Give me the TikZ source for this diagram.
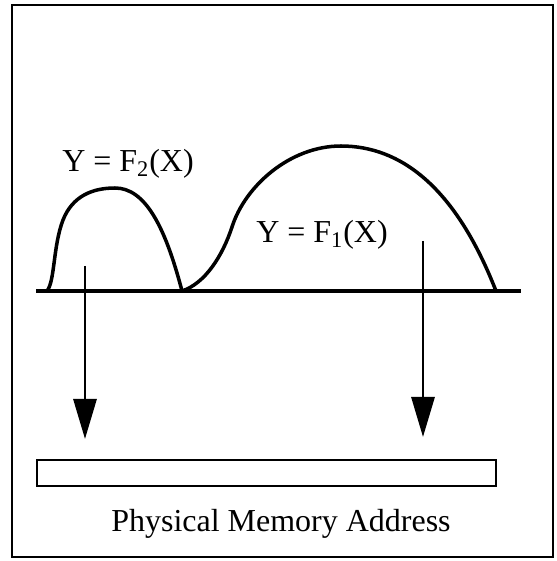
\documentclass[tikz,border=0pt]{standalone}
\usepackage{fontspec}
\setmainfont{Liberation Serif}
\usepackage{tikz}
\usetikzlibrary{arrows.meta}

\begin{document}
\begin{tikzpicture}[>={Triangle[length=0.8cm,width=0.46cm]},
  curve/.style={line width=2pt,line join=round},
  label/.style={font=\fontsize{18.2}{22}\selectfont,inner sep=0pt}]
  \useasboundingbox (0,0) rectangle (11.14,11.22);
  \draw[line width=1.3pt] (0.24,0.08) rectangle (11.06,11.12);
  % address axis
  \coordinate (L) at (0.72,5.40);
  \coordinate (R) at (10.42,5.40);
  \draw[curve] (L) -- (R);
  % the two functions
  \draw[curve] (0.94,5.40) .. controls (1.10,5.60) and (1.06,6.30) .. (1.26,6.82)
    .. controls (1.45,7.30) and (1.85,7.46) .. (2.30,7.46)
    .. controls (2.90,7.46) and (3.30,6.70) .. (3.64,5.40);
  \draw[curve] (3.64,5.40) .. controls (4.10,5.55) and (4.45,6.10) .. (4.64,6.68)
    .. controls (4.90,7.50) and (5.80,8.30) .. (6.82,8.30)
    .. controls (8.00,8.30) and (9.10,7.50) .. (9.92,5.40);
  \node[label,anchor=base] (f2) at (2.56,7.78) {Y = F\textsubscript{2}(X)};
  \node[label,anchor=base] (f1) at (6.44,6.36) {Y = F\textsubscript{1}(X)};
  % mapping arrows
  \coordinate (a2) at (1.70,5.90);
  \coordinate (b2) at (1.70,2.44);
  \coordinate (a1) at (8.46,6.40);
  \coordinate (b1) at (8.46,2.48);
  \draw[->,line width=1.7pt] (a2) -- (b2);
  \draw[->,line width=1.7pt] (a1) -- (b1);
  % physical memory
  \node[draw,line width=1.6pt,minimum width=9.18cm,minimum height=0.52cm,inner sep=0pt] (mem) at (5.33,1.76) {};
  \node[label,anchor=base] (addr) at (5.62,0.60) {Physical Memory Address};
\end{tikzpicture}
\end{document}
